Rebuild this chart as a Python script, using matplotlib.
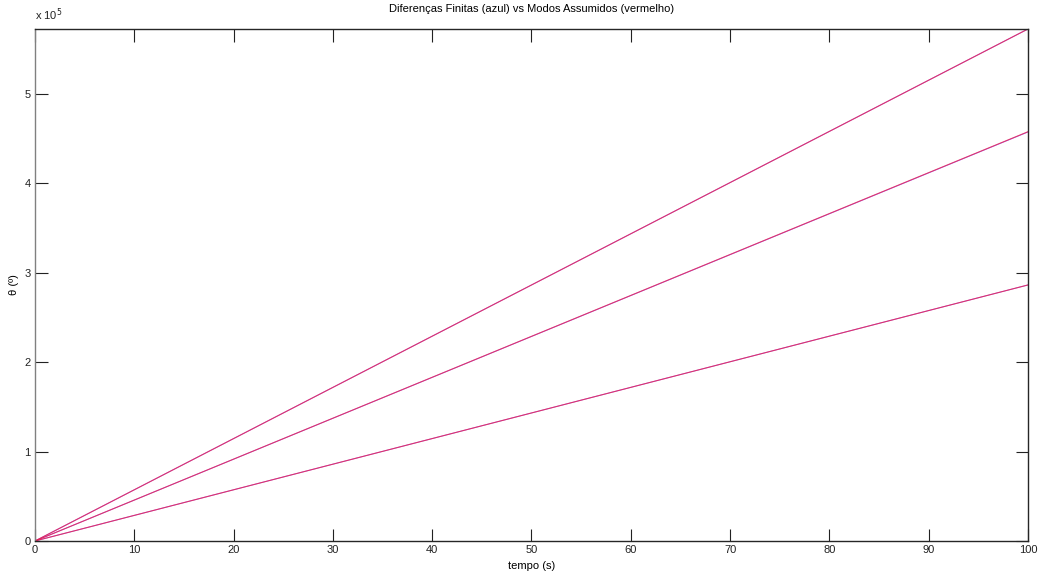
import matplotlib.pyplot as plt
from matplotlib.ticker import FuncFormatter

# tempo (s) and theta (deg) at start/end of each run
tempo = [0, 100]
theta_dif_finitas = [
    [0, 2.864e5],
    [0, 4.575e5],
    [0, 5.727e5],
]
theta_modos = [
    [0, 2.864e5],
    [0, 4.578e5],
    [0, 5.727e5],
]
x_ticks = [0, 10, 20, 30, 40, 50, 60, 70, 80, 90, 100]
y_ticks = [0, 1e5, 2e5, 3e5, 4e5, 5e5]


def main():
    plt.rcParams["font.family"] = ["Liberation Sans", "DejaVu Sans"]
    fig = plt.figure(figsize=(10.41, 5.74), dpi=100)
    ax = fig.add_axes([0.0336, 0.0575, 0.9539, 0.892])

    # blue = finite differences, red = assumed modes (drawn on top)
    for y in theta_dif_finitas:
        ax.plot(tempo, y, color="#8040ff", linewidth=0.7, alpha=0.75)
    for y in theta_modos:
        ax.plot(tempo, y, color="#e8204a", linewidth=0.8, alpha=0.8)

    ax.set_xlim(0, 100)
    ax.set_ylim(0, 5.727e5)
    ax.set_xticks(x_ticks)
    ax.set_yticks(y_ticks)
    ax.yaxis.set_major_formatter(FuncFormatter(lambda v, p: f"{v / 1e5:g}"))
    ax.tick_params(direction="in", length=9, width=0.8, labelsize=8,
                   top=True, right=True, colors="#222222", pad=3)
    for s in ax.spines.values():
        s.set_color("#262626")
        s.set_linewidth(1.0)
    ax.spines["left"].set_color("#808080")

    ax.text(0.0, 1.012, r"x 10$^5$", transform=ax.transAxes,
            fontsize=8, ha="left", va="bottom", color="#222222")
    ax.set_title("Diferenças Finitas (azul) vs Modos Assumidos (vermelho)",
                 fontsize=8, pad=12)
    ax.set_xlabel("tempo (s)", fontsize=8, labelpad=4)
    ax.set_ylabel("θ (º)", fontsize=8, labelpad=4)

    fig.savefig("out.png", dpi=100)


if __name__ == "__main__":
    main()
